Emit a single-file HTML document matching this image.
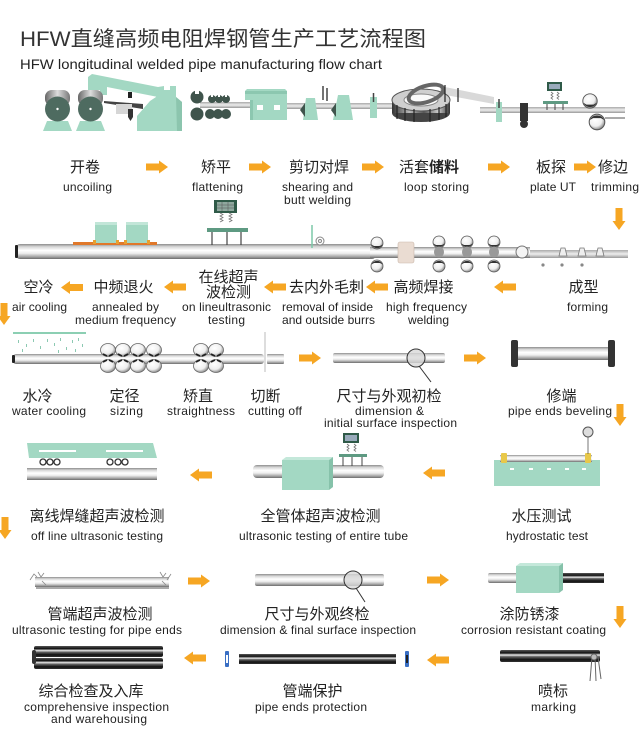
<!DOCTYPE html>
<html><head><meta charset="utf-8">
<style>
html,body{margin:0;padding:0;background:#fff;}
svg{display:block;}
text{font-family:"Liberation Sans","Noto Sans CJK SC",sans-serif;fill:#222;}
.cn{font-size:15px;}
.en{font-size:12px;}
</style></head><body>
<svg width="640" height="754" viewBox="0 0 640 754" xmlns="http://www.w3.org/2000/svg">
<defs>
<linearGradient id="sv" x1="0" y1="0" x2="0" y2="1">
<stop offset="0" stop-color="#8c8c8c"/><stop offset=".18" stop-color="#d6d6d6"/><stop offset=".42" stop-color="#fff"/><stop offset=".62" stop-color="#eee"/><stop offset=".85" stop-color="#a5a5a5"/><stop offset="1" stop-color="#6b6b6b"/>
</linearGradient>
<linearGradient id="dk" x1="0" y1="0" x2="0" y2="1">
<stop offset="0" stop-color="#555"/><stop offset=".25" stop-color="#111"/><stop offset=".42" stop-color="#eee"/><stop offset=".55" stop-color="#666"/><stop offset=".8" stop-color="#111"/><stop offset="1" stop-color="#333"/>
</linearGradient>
<linearGradient id="gh" x1="0" y1="0" x2="1" y2="0">
<stop offset="0" stop-color="#666"/><stop offset=".5" stop-color="#ddd"/><stop offset="1" stop-color="#777"/>
</linearGradient>
<linearGradient id="strip" x1="0" y1="0" x2="0" y2="1">
<stop offset="0" stop-color="#aaa"/><stop offset=".5" stop-color="#eee"/><stop offset="1" stop-color="#999"/>
</linearGradient>
<linearGradient id="coilg" x1="0" y1="0" x2="1" y2="0">
<stop offset="0" stop-color="#333"/><stop offset=".3" stop-color="#bbb"/><stop offset=".55" stop-color="#555"/><stop offset=".8" stop-color="#ccc"/><stop offset="1" stop-color="#333"/>
</linearGradient>
<radialGradient id="wh" cx=".4" cy=".35" r=".7">
<stop offset="0" stop-color="#fff"/><stop offset=".6" stop-color="#eee"/><stop offset="1" stop-color="#777"/>
</radialGradient>
<path id="ar" d="M0,-3.5H13V-6.5L22,0L13,6.5V3.5H0Z" fill="#f6a623"/>
<g id="wlT"><circle r="6" fill="url(#wh)" stroke="#555" stroke-width=".8"/><path d="M-5.5,1.5 A6,6 0 0 0 5.5,1.5 L3,3 L-3,3 Z" fill="#333"/></g>
<g id="wlB"><circle r="6" fill="url(#wh)" stroke="#555" stroke-width=".8"/><path d="M-5.5,-1.5 A6,6 0 0 1 5.5,-1.5 L3,-3 L-3,-3 Z" fill="#333"/></g>
<g id="rlT"><ellipse rx="7.5" ry="6.5" fill="url(#wh)" stroke="#666" stroke-width=".8"/><path d="M-5,4 L-1,6 M5,4 L1,6" stroke="#222" stroke-width="1.6"/></g>
<g id="rlB"><ellipse rx="7.5" ry="6.5" fill="url(#wh)" stroke="#666" stroke-width=".8"/><path d="M-5,-4 L-1,-6 M5,-4 L1,-6" stroke="#222" stroke-width="1.6"/></g>
</defs>

<!-- TITLE -->
<text x="20" y="46" font-size="21" textLength="406" lengthAdjust="spacingAndGlyphs" style="fill:#333">HFW直缝高频电阻焊钢管生产工艺流程图</text>
<text x="20" y="69" font-size="14" textLength="362" lengthAdjust="spacingAndGlyphs" style="fill:#222">HFW longitudinal welded pipe manufacturing flow chart</text>

<!-- TOP MACHINE ROW -->
<polygon points="88,77 92,74 158,87 158,97 107,87 107,95 100,95 100,90 88,90" fill="#a3d8c3"/>
<polygon points="137,131 137,116 150,101 156,97 158,87 164,86 164,90 170,90 170,86 176,86 176,97 182,102 182,131" fill="#a3d8c3"/>
<polygon points="176,97 182,102 182,131 177,131" fill="#8cc5ae"/>
<polygon points="104,101 143,104 143,109 104,103" fill="#444"/>
<rect x="116" y="104" width="16" height="10" fill="#d6d6d6"/>
<rect x="128" y="92" width="4" height="6" fill="#222"/>
<polygon points="128,109 133,109 133,117 130.5,121 128,117" fill="#333"/>

<polygon points="43,131 72,131 68,121 47,121" fill="#a3d8c3"/>
<rect x="45" y="90" width="25" height="16" rx="7" fill="url(#gh)"/>
<circle cx="57.5" cy="109" r="12.5" fill="#4e6b60"/>
<circle cx="57.5" cy="109" r="1.2" fill="#fff"/>
<polygon points="76,131 105,131 101,121 80,121" fill="#a3d8c3"/>
<rect x="78" y="90" width="25" height="16" rx="7" fill="url(#gh)"/>
<circle cx="90.5" cy="109" r="12.5" fill="#4e6b60"/>
<circle cx="90.5" cy="109" r="1.2" fill="#fff"/>

<rect x="200" y="102" width="50" height="6" fill="url(#strip)"/>
<circle cx="197" cy="97" r="6.5" fill="#3f544c"/><rect x="195" y="89" width="4" height="5" fill="#fff"/>
<circle cx="197" cy="114" r="6.5" fill="#3f544c"/>
<circle cx="212" cy="99" r="4" fill="#3f544c"/><rect x="211" y="94" width="2" height="3" fill="#fff"/>
<circle cx="219" cy="99" r="4" fill="#3f544c"/><rect x="218" y="94" width="2" height="3" fill="#fff"/>
<circle cx="226" cy="99" r="4" fill="#3f544c"/><rect x="225" y="94" width="2" height="3" fill="#fff"/>
<circle cx="210" cy="114" r="5" fill="#3f544c"/>
<circle cx="218" cy="114" r="5" fill="#3f544c"/>
<circle cx="226" cy="114" r="5" fill="#3f544c"/>

<rect x="287" y="103" width="110" height="6" fill="url(#strip)"/>
<polygon points="245,91 247,89 285,89 287,91 287,120 250,120 250,100 245,100" fill="#a3d8c3"/>
<rect x="245" y="91" width="42" height="3" fill="#8cc7b0"/>
<rect x="250" y="100" width="3" height="20" fill="#8cc7b0"/>
<rect x="257" y="105" width="6" height="5" fill="#fff"/>
<rect x="274" y="105" width="6" height="5" fill="#fff"/>

<polygon points="303,120 318,120 315,98 306,98" fill="#a3d8c3"/>
<polygon points="300,110 305,103 305,117" fill="#3f544c"/>
<line x1="323" y1="86" x2="323" y2="100" stroke="#444" stroke-width="1.5"/>
<line x1="327" y1="88" x2="327" y2="101" stroke="#444" stroke-width="1.5"/>
<polygon points="333,120 353,120 349,95 338,95" fill="#a3d8c3"/>
<polygon points="331,110 336,103 336,117" fill="#3f544c"/>
<rect x="370" y="97" width="7" height="21" fill="#a3d8c3"/>
<line x1="373.5" y1="93" x2="373.5" y2="102" stroke="#444" stroke-width="1.5"/>

<!-- loop coil -->
<polygon points="440,86 494,97 494,104 440,94" fill="#d9d9d9"/>
<ellipse cx="421" cy="113" rx="29" ry="9" fill="#444"/>
<rect x="392" y="100" width="58" height="13" fill="url(#coilg)"/>
<ellipse cx="421" cy="100" rx="29" ry="11" fill="#cfcfcf" stroke="#555" stroke-width="1"/>
<ellipse cx="421" cy="100" rx="17" ry="6" fill="#fafafa" stroke="#888"/>
<ellipse cx="426" cy="94" rx="18" ry="8" fill="none" stroke="#666" stroke-width="4" transform="rotate(-18 426 94)"/>
<g stroke="#222" stroke-width="1.2">
<line x1="397" y1="105" x2="397" y2="119"/><line x1="405" y1="108" x2="405" y2="121"/><line x1="414" y1="109" x2="414" y2="122"/><line x1="430" y1="109" x2="430" y2="122"/><line x1="439" y1="107" x2="439" y2="120"/><line x1="446" y1="104" x2="446" y2="117"/>
<line x1="445" y1="85" x2="445" y2="102"/><line x1="458" y1="88" x2="458" y2="102"/>
</g>
<rect x="480" y="107" width="145" height="6" fill="url(#strip)"/>
<rect x="496" y="102" width="6" height="20" fill="#a3d8c3"/>
<line x1="499" y1="99" x2="499" y2="108" stroke="#444" stroke-width="1.5"/>
<rect x="520" y="103" width="8" height="18" fill="#333"/>
<circle cx="524" cy="124" r="4" fill="#333"/>
<rect x="547" y="82" width="15" height="9" fill="#2f5a48"/>
<rect x="549" y="84" width="11" height="5" fill="#9ab"/>
<g stroke="#777" stroke-width=".8" fill="none"><path d="M551,92 l2,1.5 -2,1.5 2,1.5 -2,1.5 2,1.5"/><path d="M557,92 l2,1.5 -2,1.5 2,1.5 -2,1.5 2,1.5"/></g>
<rect x="543" y="101" width="25" height="3" fill="#5e9a82"/>
<g stroke="#444" stroke-width="1"><line x1="547" y1="104" x2="547" y2="110"/><line x1="555" y1="104" x2="555" y2="110"/><line x1="563" y1="104" x2="563" y2="110"/></g>
<line x1="605" y1="118" x2="625" y2="118" stroke="#555" stroke-width="1"/>
<use href="#wlT" transform="translate(590,101) scale(1.2)"/>
<use href="#wlB" transform="translate(597,122) scale(1.3)"/>

<!-- ROW 1 LABELS -->
<g class="cn" text-anchor="middle">
<text x="85" y="172">开卷</text>
<text x="216" y="172">矫平</text>
<text x="319" y="172">剪切对焊</text>
<text x="429" y="172">活套<tspan font-weight="bold">储料</tspan></text>
<text x="551" y="172">板探</text>
<text x="613" y="172">修边</text>
</g>
<g class="en" text-anchor="middle" lengthAdjust="spacingAndGlyphs">
<text x="87.5" y="191" textLength="49">uncoiling</text>
<text x="217.5" y="191" textLength="51">flattening</text>
<text x="317.5" y="191" textLength="71">shearing and</text>
<text x="317.5" y="204" textLength="67">butt welding</text>
<text x="436.5" y="191" textLength="65">loop storing</text>
<text x="553" y="191" textLength="46">plate UT</text>
<text x="615" y="191" textLength="48">trimming</text>
</g>
<use href="#ar" transform="translate(146,167)"/>
<use href="#ar" transform="translate(249,167)"/>
<use href="#ar" transform="translate(362,167)"/>
<use href="#ar" transform="translate(488,167)"/>
<use href="#ar" transform="translate(574,167)"/>
<use href="#ar" transform="translate(619,208) rotate(90)"/>

<!-- ROW 2 PIPE LINE -->
<rect x="530" y="250" width="98" height="8" fill="url(#strip)"/>
<rect x="16" y="244" width="360" height="15" rx="4" fill="url(#sv)"/>
<rect x="15" y="245" width="3" height="13" rx="1" fill="#222"/>
<rect x="370" y="247" width="160" height="11" fill="url(#sv)"/>
<rect x="73" y="242" width="84" height="3" fill="#e0782a"/>
<rect x="95" y="222" width="22" height="21" fill="#a3d8c3"/>
<rect x="95" y="222" width="22" height="3" fill="#c2e6d8"/>
<rect x="126" y="222" width="22" height="21" fill="#a3d8c3"/>
<rect x="126" y="222" width="22" height="3" fill="#c2e6d8"/>
<g fill="#e8a030"><rect x="93" y="240" width="3" height="4"/><rect x="116" y="240" width="3" height="4"/><rect x="124" y="240" width="3" height="4"/><rect x="147" y="240" width="3" height="4"/></g>
<rect x="214" y="200" width="23" height="13" fill="#2f5a48"/>
<rect x="217" y="202" width="17" height="9" fill="#8fa89e"/>
<g stroke="#555" stroke-width=".5"><line x1="217" y1="205" x2="234" y2="205"/><line x1="217" y1="208" x2="234" y2="208"/><line x1="222" y1="202" x2="222" y2="211"/><line x1="228" y1="202" x2="228" y2="211"/></g>
<g stroke="#777" stroke-width=".8" fill="none"><path d="M220,213 l3,1.5 -3,1.5 3,1.5 -3,1.5 3,1.5 -3,1.5"/><path d="M229,213 l3,1.5 -3,1.5 3,1.5 -3,1.5 3,1.5 -3,1.5"/></g>
<rect x="207" y="228" width="41" height="4" fill="#5e9a82"/>
<g stroke="#444" stroke-width="1.2"><line x1="212" y1="232" x2="212" y2="245"/><line x1="227" y1="232" x2="227" y2="245"/><line x1="241" y1="232" x2="241" y2="245"/></g>
<line x1="312" y1="225" x2="312" y2="248" stroke="#7cc8a8" stroke-width="1.5"/>
<circle cx="320" cy="241" r="4" fill="#fff" stroke="#888"/><circle cx="320" cy="241" r="1.5" fill="none" stroke="#888"/>
<use href="#wlT" x="377" y="243"/><use href="#wlB" x="377" y="266"/>
<rect x="398" y="242" width="16" height="21" rx="2" fill="#eadcd2" stroke="#c9b7aa" stroke-width=".6"/>
<use href="#wlT" x="439" y="242"/><use href="#wlB" x="439" y="266"/>
<use href="#wlT" x="467" y="242"/><use href="#wlB" x="467" y="266"/>
<use href="#wlT" x="494" y="242"/><use href="#wlB" x="494" y="266"/>
<ellipse cx="439" cy="252" rx="5" ry="5.5" fill="#999"/>
<ellipse cx="467" cy="252" rx="5" ry="5.5" fill="#999"/>
<ellipse cx="494" cy="252" rx="5" ry="5.5" fill="#999"/>
<circle cx="522" cy="252" r="6" fill="#f4f4f4" stroke="#777"/>
<g fill="#eee" stroke="#777" stroke-width=".8">
<polygon points="561,248 565,248 567,256 559,256"/><polygon points="580,248 584,248 586,256 578,256"/><polygon points="598,248 602,248 604,256 596,256"/>
</g>
<g fill="#888"><circle cx="543" cy="265" r="1.6"/><circle cx="562" cy="265" r="1.6"/><circle cx="582" cy="265" r="1.6"/></g>

<!-- ROW 2 LABELS -->
<g class="cn" text-anchor="middle">
<text x="38.5" y="292">空冷</text>
<text x="123.5" y="292">中频退火</text>
<text x="228.5" y="282">在线超声</text>
<text x="228.5" y="297">波检测</text>
<text x="326.5" y="292">去内外毛刺</text>
<text x="423.5" y="292">高频焊接</text>
<text x="583.5" y="292">成型</text>
</g>
<g class="en" text-anchor="middle" lengthAdjust="spacingAndGlyphs">
<text x="39.5" y="311" textLength="55">air cooling</text>
<text x="125.5" y="311" textLength="67">annealed by</text>
<text x="125.5" y="324" textLength="101">medium frequency</text>
<text x="226.5" y="311" textLength="89">on lineultrasonic</text>
<text x="226.5" y="324" textLength="37">testing</text>
<text x="327.5" y="311" textLength="91">removal of inside</text>
<text x="328.5" y="324" textLength="93">and outside burrs</text>
<text x="426.5" y="311" textLength="81">high frequency</text>
<text x="428.5" y="324" textLength="41">welding</text>
<text x="587.5" y="311" textLength="41">forming</text>
</g>
<use href="#ar" transform="translate(83,287.5) scale(-1,1)"/>
<use href="#ar" transform="translate(186,287) scale(-1,1)"/>
<use href="#ar" transform="translate(286,287) scale(-1,1)"/>
<use href="#ar" transform="translate(388,287) scale(-1,1)"/>
<use href="#ar" transform="translate(516,287) scale(-1,1)"/>
<use href="#ar" transform="translate(4,303) rotate(90)"/>

<!-- ROW 3 -->
<line x1="13" y1="333" x2="86" y2="333" stroke="#7cc8a8" stroke-width="1.8"/>
<g fill="#8cc9b2">
<rect x="18" y="340" width="1" height="3"/><rect x="26" y="344" width="1" height="3"/><rect x="33" y="339" width="1" height="3"/><rect x="40" y="346" width="1" height="3"/><rect x="47" y="339" width="1" height="3"/><rect x="54" y="343" width="1" height="3"/><rect x="60" y="338" width="1" height="3"/><rect x="66" y="347" width="1" height="3"/><rect x="72" y="340" width="1" height="3"/><rect x="78" y="338" width="1" height="3"/><rect x="82" y="344" width="1" height="3"/><rect x="22" y="349" width="1" height="3"/><rect x="58" y="350" width="1" height="3"/><rect x="75" y="349" width="1" height="3"/>
</g>
<rect x="13" y="354" width="251" height="10" rx="3" fill="url(#sv)"/>
<rect x="267" y="354" width="17" height="10" rx="1" fill="url(#sv)"/>
<rect x="12" y="355" width="3" height="8" rx="1" fill="#222"/>
<use href="#rlT" x="108" y="350"/><use href="#rlB" x="108" y="366"/>
<use href="#rlT" x="123" y="350"/><use href="#rlB" x="123" y="366"/>
<use href="#rlT" x="138" y="350"/><use href="#rlB" x="138" y="366"/>
<use href="#rlT" x="154" y="350"/><use href="#rlB" x="154" y="366"/>
<use href="#rlT" x="201" y="350"/><use href="#rlB" x="201" y="366"/>
<use href="#rlT" x="216" y="350"/><use href="#rlB" x="216" y="366"/>
<line x1="265" y1="332" x2="265" y2="372" stroke="#aaa" stroke-width=".8"/>
<use href="#ar" transform="translate(299,358)"/>
<rect x="333" y="353" width="112" height="10" rx="2" fill="url(#sv)"/>
<line x1="419" y1="366" x2="431" y2="382" stroke="#333" stroke-width="1"/>
<circle cx="416" cy="358" r="9" fill="#d8d8d8" fill-opacity=".8" stroke="#333" stroke-width="1"/>
<use href="#ar" transform="translate(464,358)"/>
<rect x="514" y="347" width="98" height="13" fill="url(#sv)"/>
<rect x="511" y="340" width="7" height="27" rx="2" fill="#333"/>
<rect x="608" y="340" width="7" height="27" rx="2" fill="#333"/>
<g class="cn" text-anchor="middle">
<text x="37.5" y="401">水冷</text>
<text x="124.5" y="401">定径</text>
<text x="198" y="401">矫直</text>
<text x="265.5" y="401">切断</text>
<text x="389" y="401">尺寸与外观初检</text>
<text x="561.5" y="401">修端</text>
</g>
<g class="en" text-anchor="middle" lengthAdjust="spacingAndGlyphs">
<text x="49" y="415" textLength="74">water cooling</text>
<text x="126.5" y="415" textLength="33">sizing</text>
<text x="201" y="415" textLength="68">straightness</text>
<text x="275" y="415" textLength="54">cutting off</text>
<text x="389.5" y="415" textLength="69">dimension &amp;</text>
<text x="390.5" y="427" textLength="133">initial surface inspection</text>
<text x="560" y="415" textLength="104">pipe ends beveling</text>
</g>
<use href="#ar" transform="translate(620,404) rotate(90)"/>

<!-- ROW 4 -->
<polygon points="27,443 153,443 157,458 29,458" fill="#a3d8c3"/>
<rect x="39" y="450" width="37" height="2" fill="#fff"/>
<rect x="106" y="450" width="37" height="2" fill="#fff"/>
<rect x="27" y="468" width="130" height="12" fill="url(#sv)"/>
<g fill="#fff" stroke="#333" stroke-width="1.3">
<circle cx="43" cy="462" r="3"/><circle cx="50" cy="462" r="3"/><circle cx="57" cy="462" r="3"/>
<circle cx="110" cy="462" r="3"/><circle cx="118" cy="462" r="3"/><circle cx="125" cy="462" r="3"/>
</g>
<use href="#ar" transform="translate(212,475) scale(-1,1)"/>
<rect x="253" y="465" width="131" height="13" rx="4" fill="url(#sv)"/>
<polygon points="282,460 286,457 333,457 329,460" fill="#c4e8da"/>
<rect x="282" y="460" width="47" height="30" fill="#a3d8c3"/>
<polygon points="329,460 333,457 333,487 329,490" fill="#86c2aa"/>
<rect x="343" y="433" width="16" height="10" fill="#2f5a48"/>
<rect x="345" y="435" width="12" height="6" fill="#9ab"/>
<g stroke="#777" stroke-width=".8" fill="none"><path d="M347,444 l2,1.5 -2,1.5 2,1.5 -2,1.5 2,1.5"/><path d="M354,444 l2,1.5 -2,1.5 2,1.5 -2,1.5 2,1.5"/></g>
<rect x="339" y="454" width="28" height="3" fill="#5e9a82"/>
<g stroke="#444" stroke-width="1"><line x1="343" y1="457" x2="343" y2="466"/><line x1="352" y1="457" x2="352" y2="466"/><line x1="362" y1="457" x2="362" y2="466"/></g>
<use href="#ar" transform="translate(445,473) scale(-1,1)"/>
<rect x="494" y="460" width="106" height="26" fill="#a3d8c3"/>
<rect x="500" y="455" width="92" height="7" fill="url(#sv)"/>
<rect x="501" y="453" width="6" height="10" rx="1" fill="#e8c84a"/>
<rect x="585" y="453" width="6" height="10" rx="1" fill="#e8c84a"/>
<g fill="#fff"><rect x="510" y="468" width="4" height="2"/><rect x="529" y="468" width="4" height="2"/><rect x="547" y="468" width="4" height="2"/><rect x="565" y="468" width="4" height="2"/><rect x="582" y="468" width="4" height="2"/></g>
<line x1="588" y1="437" x2="588" y2="454" stroke="#555" stroke-width=".8"/>
<circle cx="588" cy="432" r="5" fill="#ddd" stroke="#555" stroke-width="1"/>
<g class="cn" text-anchor="middle">
<text x="97" y="521">离线焊缝超声波检测</text>
<text x="320.5" y="521">全管体超声波检测</text>
<text x="541.5" y="521">水压测试</text>
</g>
<g class="en" text-anchor="middle" lengthAdjust="spacingAndGlyphs">
<text x="97" y="540" textLength="132">off line ultrasonic testing</text>
<text x="323.5" y="540" textLength="169">ultrasonic testing of entire tube</text>
<text x="547" y="540" textLength="82">hydrostatic test</text>
</g>
<use href="#ar" transform="translate(5,517) rotate(90)"/>

<!-- ROW 5 -->
<rect x="36" y="586" width="133" height="3" fill="#aaa"/>
<rect x="35" y="577" width="134" height="10" fill="url(#sv)"/>
<g stroke="#888" stroke-width=".8" fill="none">
<path d="M30,580 l4,-6 3,3 M38,572 l3,5 3,-4 M42,581 l4,4"/>
<path d="M160,572 l3,5 3,-4 M167,580 l4,-6 M162,581 l4,4"/>
</g>
<use href="#ar" transform="translate(188,581)"/>
<rect x="255" y="574" width="129" height="12" rx="2" fill="url(#sv)"/>
<line x1="356" y1="588" x2="365" y2="602" stroke="#333" stroke-width="1"/>
<circle cx="353" cy="580" r="9" fill="#d8d8d8" fill-opacity=".8" stroke="#333" stroke-width="1"/>
<use href="#ar" transform="translate(427,580)"/>
<rect x="488" y="573" width="32" height="10" rx="2" fill="url(#sv)"/>
<rect x="557" y="573" width="47" height="10" fill="url(#dk)"/>
<polygon points="516,566 520,563 563,563 559,566" fill="#c4e8da"/>
<rect x="516" y="566" width="43" height="27" fill="#a3d8c3"/>
<polygon points="559,566 563,563 563,590 559,593" fill="#86c2aa"/>
<g class="cn" text-anchor="middle">
<text x="100" y="619">管端超声波检测</text>
<text x="317" y="619">尺寸与外观终检</text>
<text x="529.5" y="619">涂防锈漆</text>
</g>
<g class="en" text-anchor="middle" lengthAdjust="spacingAndGlyphs">
<text x="97" y="634" textLength="170">ultrasonic testing for pipe ends</text>
<text x="318" y="634" textLength="196">dimension &amp; final surface inspection</text>
<text x="533.5" y="634" textLength="145">corrosion resistant coating</text>
</g>
<use href="#ar" transform="translate(620,606) rotate(90)"/>

<!-- ROW 6 -->
<rect x="34" y="646" width="129" height="11" rx="2" fill="url(#dk)"/>
<rect x="34" y="658" width="129" height="11" rx="2" fill="url(#dk)"/>
<rect x="32" y="650" width="4" height="14" rx="2" fill="#333"/>
<use href="#ar" transform="translate(206,658) scale(-1,1)"/>
<rect x="239" y="654" width="157" height="10" fill="url(#dk)"/>
<rect x="225" y="651" width="4" height="16" rx="1" fill="#3a6fc4"/>
<rect x="226" y="655" width="2" height="8" fill="#fff"/>
<rect x="405" y="651" width="4" height="16" rx="1" fill="#3a6fc4"/>
<rect x="406" y="655" width="2" height="8" fill="#222"/>
<use href="#ar" transform="translate(449,660) scale(-1,1)"/>
<rect x="500" y="650" width="100" height="12" rx="2" fill="url(#dk)"/>
<g stroke="#666" stroke-width="1" fill="none">
<path d="M592,657 l-2,24 M595,657 l1,24 M598,657 l3,22"/>
<circle cx="594" cy="657" r="3" fill="#bbb"/>
</g>
<g class="cn" text-anchor="middle">
<text x="91" y="696">综合检查及入库</text>
<text x="312.5" y="696">管端保护</text>
<text x="553" y="696">喷标</text>
</g>
<g class="en" text-anchor="middle" lengthAdjust="spacingAndGlyphs">
<text x="96.5" y="711" textLength="145">comprehensive inspection</text>
<text x="99" y="723" textLength="96">and warehousing</text>
<text x="311" y="711" textLength="112">pipe ends protection</text>
<text x="553.5" y="711" textLength="45">marking</text>
</g>
</svg>
</body></html>
